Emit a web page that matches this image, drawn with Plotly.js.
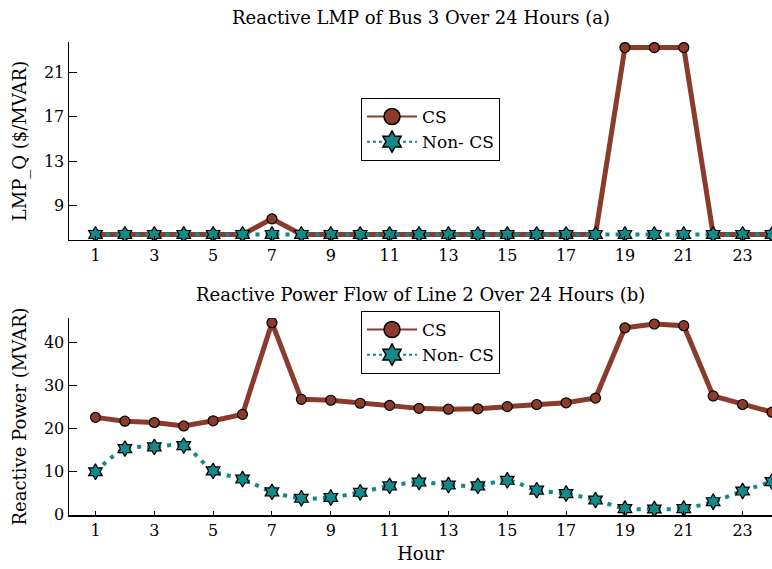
<!DOCTYPE html>
<html>
<head>
<meta charset="utf-8">
<script src="https://cdn.plot.ly/plotly-3.0.1.min.js"></script>
<style>html,body{margin:0;padding:0;background:#fff;}#chart{width:772px;height:569px;}</style>
</head>
<body>
<div id="chart"></div>
<script>
// ---- data ----
var hours = [1,2,3,4,5,6,7,8,9,10,11,12,13,14,15,16,17,18,19,20,21,22,23,24];
var lmpCS    = [6.4,6.4,6.4,6.4,6.4,6.4,7.8,6.4,6.4,6.4,6.4,6.4,6.4,6.4,6.4,6.4,6.4,6.4,23.2,23.2,23.2,6.4,6.4,6.4];
var lmpNonCS = [6.4,6.4,6.4,6.4,6.4,6.4,6.4,6.4,6.4,6.4,6.4,6.4,6.4,6.4,6.4,6.4,6.4,6.4,6.4,6.4,6.4,6.4,6.4,6.4];
var flowCS    = [22.6,21.7,21.4,20.6,21.8,23.3,44.7,26.8,26.6,25.9,25.4,24.7,24.5,24.6,25.1,25.6,26.0,27.1,43.5,44.4,44.0,27.6,25.6,23.8];
var flowNonCS = [9.9,15.3,15.7,16.0,10.1,8.2,5.2,3.7,3.9,5.1,6.6,7.5,6.8,6.6,7.9,5.6,4.8,3.3,1.3,1.2,1.3,2.9,5.4,7.6];
var names = ['CS', 'Non- CS'];
var titles = ['Reactive LMP of Bus 3 Over 24 Hours (a)', 'Reactive Power Flow of Line 2 Over 24 Hours (b)'];
var yTitles = ['LMP_Q ($/MVAR)', 'Reactive Power (MVAR)'];
var xTitle = 'Hour';

// ---- styles ----
var brown = '#8a3b2c';
var teal = '#13898a';
var FONT = 'DejaVu Serif, serif';

function csTrace(y, xa, ya) {
  return {x: hours, y: y, xaxis: xa, yaxis: ya, type: 'scatter', mode: 'lines+markers',
    line: {color: brown, width: 5},
    marker: {symbol: 'circle', size: 10, color: brown, line: {color: '#000', width: 1.2}},
    showlegend: false, hoverinfo: 'skip'};
}
function ncsTrace(y, xa, ya) {
  return {x: hours, y: y, xaxis: xa, yaxis: ya, type: 'scatter', mode: 'lines+markers',
    line: {color: teal, width: 4, dash: '4px,6px', shape: 'spline', smoothing: 0.8},
    marker: {symbol: 'hexagram', size: 12, color: teal, line: {color: '#000', width: 1.2}},
    showlegend: false, hoverinfo: 'skip'};
}
function legTraces(xa, ya, leg) {
  return [
    {x: [null], y: [null], xaxis: xa, yaxis: ya, type: 'scatter', mode: 'lines+markers', name: names[0], legend: leg,
      line: {color: brown, width: 2}, marker: {symbol: 'circle', size: 16, color: brown, line: {color: '#000', width: 1.5}}},
    {x: [null], y: [null], xaxis: xa, yaxis: ya, type: 'scatter', mode: 'lines+markers', name: names[1], legend: leg,
      line: {color: teal, width: 2, dash: 'dot'}, marker: {symbol: 'hexagram', size: 16, color: teal, line: {color: '#000', width: 1.5}}}
  ];
}

var data = [
  csTrace(lmpCS, 'x', 'y'), ncsTrace(lmpNonCS, 'x', 'y'),
  csTrace(flowCS, 'x2', 'y2'), ncsTrace(flowNonCS, 'x2', 'y2')
].concat(legTraces('x', 'y', 'legend')).concat(legTraces('x2', 'y2', 'legend2'));

var xBase = {range: [0.1, 24], tick0: 1, dtick: 2, showline: true, linecolor: '#000', linewidth: 1.5,
  ticks: 'inside', ticklen: 4, tickcolor: '#000', showgrid: false, zeroline: false,
  tickfont: {family: FONT, size: 16, color: '#000'}};
var yBase = {showline: true, linecolor: '#000', linewidth: 1.5, ticks: 'inside', ticklen: 8, tickcolor: '#000',
  showgrid: false, zeroline: false, tickfont: {family: FONT, size: 16, color: '#000'}};

var legBase = {xanchor: 'left', yanchor: 'top', bgcolor: '#fff', bordercolor: '#000', borderwidth: 1,
  font: {family: FONT, size: 17, color: '#000'}, itemsizing: 'trace', itemwidth: 50};

var layout = {
  width: 772, height: 569,
  margin: {l: 69, r: 0, t: 42, b: 54},
  paper_bgcolor: '#fff', plot_bgcolor: '#fff',
  font: {family: FONT, color: '#000'},
  xaxis: Object.assign({}, xBase, {anchor: 'y', domain: [0, 1]}),
  yaxis: Object.assign({}, yBase, {domain: [0.5814, 1], range: [5.9, 23.7], tick0: 1, dtick: 4,
    title: {text: yTitles[0], font: {family: FONT, size: 18}, standoff: 12}}),
  xaxis2: Object.assign({}, xBase, {anchor: 'y2', domain: [0, 1],
    title: {text: xTitle, font: {family: FONT, size: 18}, standoff: 8}}),
  yaxis2: Object.assign({}, yBase, {domain: [0, 0.4165], range: [-0.2, 45.8], tick0: 0, dtick: 10,
    title: {text: yTitles[1], font: {family: FONT, size: 18}, standoff: 12}}),
  legend: Object.assign({}, legBase, {x: 0.4154, y: 0.8816}),
  legend2: Object.assign({}, legBase, {x: 0.4154, y: 0.4313}),
  annotations: [
    {text: titles[0], xref: 'paper', yref: 'paper', x: 0.5, y: 1, yshift: 25, xanchor: 'center', yanchor: 'middle',
      showarrow: false, font: {family: FONT, size: 18, color: '#000'}},
    {text: titles[1], xref: 'paper', yref: 'paper', x: 0.5, y: 0.4165, yshift: 23, xanchor: 'center', yanchor: 'middle',
      showarrow: false, font: {family: FONT, size: 18, color: '#000'}}
  ],
  showlegend: true
};

Plotly.newPlot('chart', data, layout, {displayModeBar: false, staticPlot: true});
</script>
</body>
</html>
